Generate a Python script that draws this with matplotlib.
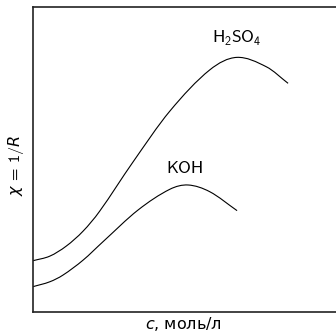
import matplotlib
matplotlib.use("Agg")
import matplotlib.pyplot as plt
from matplotlib.path import Path
from matplotlib.patches import PathPatch

plt.rcParams['font.family'] = ['cmss10', 'DejaVu Sans']
plt.rcParams['mathtext.fontset'] = 'custom'
plt.rcParams['mathtext.rm'] = 'cmss10'
plt.rcParams['mathtext.it'] = 'DejaVu Sans:italic'
plt.rcParams['axes.unicode_minus'] = False

# concentration (arbitrary units) and conductivity (arbitrary units)
c_h2so4 = [0.0, 0.56, 1.11, 1.67, 2.22, 3.33, 4.56, 5.89, 6.79, 7.78, 8.50]
chi_h2so4 = [1.68, 1.83, 2.16, 2.65, 3.30, 4.91, 6.58, 7.93, 8.34, 8.03, 7.49]

c_koh = [0.0, 0.56, 1.0, 1.67, 2.33, 3.5, 4.56, 5.17, 5.89, 6.8]
chi_koh = [0.83, 0.99, 1.21, 1.70, 2.30, 3.34, 4.02, 4.16, 3.94, 3.32]


def smooth_path(xs, ys):
    # cubic Hermite through the read points (tangents from neighbours), as Bezier segments
    n = len(xs)
    m = []
    for i in range(n):
        a, b = max(i - 1, 0), min(i + 1, n - 1)
        m.append((ys[b] - ys[a]) / (xs[b] - xs[a]))
    verts = [(xs[0], ys[0])]
    codes = [Path.MOVETO]
    for i in range(n - 1):
        h = xs[i + 1] - xs[i]
        verts += [(xs[i] + h / 3, ys[i] + m[i] * h / 3),
                  (xs[i + 1] - h / 3, ys[i + 1] - m[i + 1] * h / 3),
                  (xs[i + 1], ys[i + 1])]
        codes += [Path.CURVE4] * 3
    return Path(verts, codes)


fig = plt.figure(figsize=(3.36, 3.36), dpi=100)
ax = fig.add_axes([33 / 336, 24 / 336, 310 / 336, 305.3 / 336])

for xs, ys in [(c_h2so4, chi_h2so4), (c_koh, chi_koh)]:
    ax.add_patch(PathPatch(smooth_path(xs, ys), facecolor='none', edgecolor='black', lw=0.8))

ax.text(6.8, 9.0, r'H$_2$SO$_4$', ha='center', va='center', fontsize=12.5)
ax.text(5.05, 4.7, 'KOH', ha='center', va='center', fontsize=12.5)

ax.set_xlim(0, 10.33)
ax.set_ylim(0, 10)
ax.set_xticks([])
ax.set_yticks([])
for s in ax.spines.values():
    s.set_linewidth(1.2)
    s.set_color('#222222')

ax.set_xlabel(r'$c$, моль/л', fontsize=11.5, labelpad=2, family=['DejaVu Sans'])
ax.xaxis.label.set_x(150 / 310)
ax.set_ylabel(r'$\chi$ = 1/$R$', fontsize=11.5, labelpad=5)
ax.yaxis.label.set_y(0.48)

fig.savefig('out.png', dpi=100)
